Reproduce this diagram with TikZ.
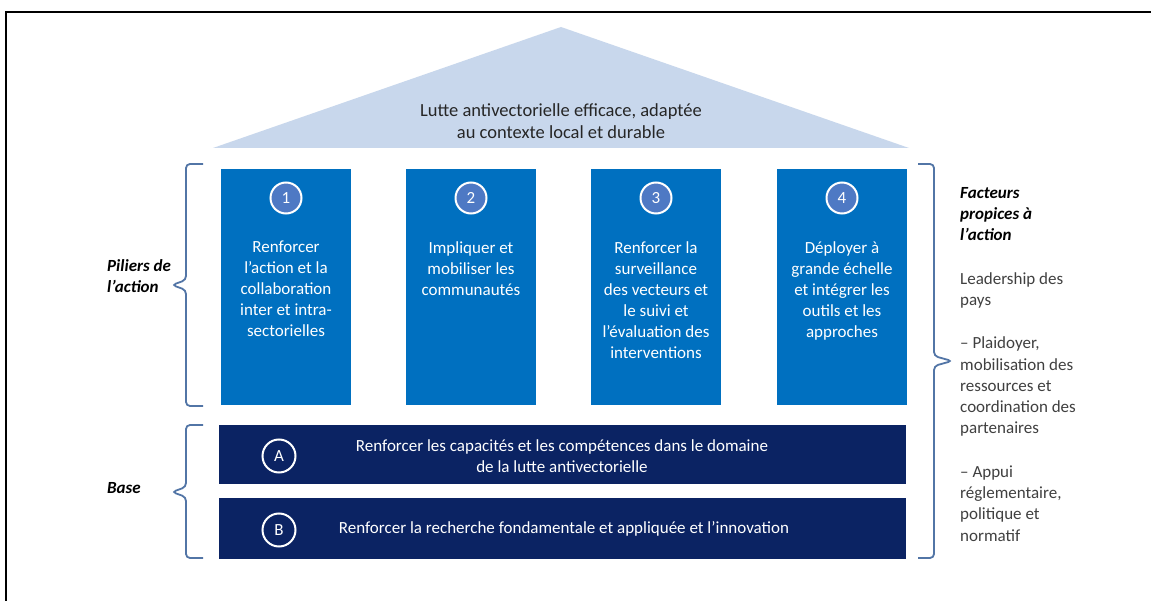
\documentclass[tikz,border=0pt]{standalone}
\usepackage{fontspec}
\setmainfont{Carlito}
\definecolor{roofc}{HTML}{C8D7EC}
\definecolor{pillarc}{HTML}{0070C0}
\definecolor{basec}{HTML}{0B2363}
\definecolor{numc}{HTML}{4E79C4}
\definecolor{bracec}{HTML}{5275A6}
\definecolor{greytxt}{HTML}{404040}
\begin{document}
\begin{tikzpicture}[x=1pt,y=-1pt,
  pillar/.style={fill=pillarc, draw=none},
  basebar/.style={fill=basec, draw=none},
  numcirc/.style={circle, draw=white, line width=2pt, fill=numc, minimum size=31pt, inner sep=0pt, text=white, font=\fontsize{17}{20}\selectfont},
  lettercirc/.style={circle, draw=white, line width=2pt, fill=basec, minimum size=33pt, inner sep=0pt, text=white, font=\fontsize{17}{20}\selectfont},
  pillartext/.style={anchor=north, align=center, text=white, inner sep=0pt, font=\fontsize{17}{21}\selectfont},
  basetext/.style={align=center, text=white, inner sep=0pt, font=\fontsize{17}{21}\selectfont},
  brace/.style={draw=bracec, line width=1.8pt, rounded corners=4pt},
  sidelabel/.style={anchor=north west, align=left, inner sep=0pt, font=\fontsize{17}{21}\selectfont\bfseries\itshape}
]
\useasboundingbox (0,0) rectangle (1151,601);
\fill[white] (0,0) rectangle (1151,601);
% frame
\draw[line width=2.5pt, line cap=rect] (6,601) -- (6,12) -- (1151,12);
% roof
\fill[roofc] (213,148) -- (561,27) -- (909,148) -- cycle;
\node[align=center, inner sep=0pt, text=black!85, font=\fontsize{18.5}{22}\selectfont] (roof) at (561,121) {Lutte antivectorielle efficace, adaptée\\au contexte local et durable};
% pillars
\foreach \i/\x in {1/221,2/406,3/591,4/777}{
  \fill[pillar] (\x,169) rectangle ++(130,236);
  \node[numcirc] (n\i) at ({\x+65},198) {\i};
}
\node[pillartext] (p1) at (286,241) {Renforcer\\l’action et la\\collaboration\\inter et intra-\\sectorielles};
\node[pillartext] (p2) at (471,241) {Impliquer et\\mobiliser les\\communautés};
\node[pillartext] (p3) at (656,241) {Renforcer la\\surveillance\\des vecteurs et\\le suivi et\\l’évaluation des\\interventions};
\node[pillartext] (p4) at (842,241) {Déployer à\\grande échelle\\et intégrer les\\outils et les\\approches};
% base bars
\fill[basebar] (219,425) rectangle (906,484);
\fill[basebar] (219,498) rectangle (906,559);
\node[lettercirc] (ca) at (279,456) {A};
\node[lettercirc] (cb) at (279,530) {B};
\node[basetext] (ta) at (562,456) {Renforcer les capacités et les compétences dans le domaine\\de la lutte antivectorielle};
\node[basetext] (tb) at (564,529) {Renforcer la recherche fondamentale et appliquée et l’innovation};
% left braces
\coordinate (lb1t) at (203,164);
\coordinate (lb1b) at (203,406);
\draw[brace] (lb1t) -- (186,164) -- (186,280) -- (172,285) -- (186,290) -- (186,406) -- (lb1b);
\coordinate (lb2t) at (203,425);
\coordinate (lb2b) at (203,558);
\draw[brace] (lb2t) -- (186,425) -- (186,487) -- (172,492) -- (186,497) -- (186,558) -- (lb2b);
% right brace
\coordinate (rbt) at (918,164);
\coordinate (rbb) at (918,558);
\draw[brace] (rbt) -- (934,164) -- (934,356) -- (952,361) -- (934,366) -- (934,558) -- (rbb);
% labels
\node[sidelabel] (lp) at (107,259) {Piliers de\\l’action};
\node[sidelabel] (lbase) at (107,482) {Base};
\node[anchor=north west, align=left, inner sep=0pt, font=\fontsize{17}{21.3}\selectfont] (rt) at (960,187)
  {\textbf{\textit{Facteurs}}\\\textbf{\textit{propices à}}\\\textbf{\textit{l’action}}\\[22pt]
   \textcolor{greytxt}{Leadership des}\\\textcolor{greytxt}{pays}\\[22pt]
   \textcolor{greytxt}{– Plaidoyer,}\\\textcolor{greytxt}{mobilisation des}\\\textcolor{greytxt}{ressources et}\\\textcolor{greytxt}{coordination des}\\\textcolor{greytxt}{partenaires}\\[22pt]
   \textcolor{greytxt}{– Appui}\\\textcolor{greytxt}{réglementaire,}\\\textcolor{greytxt}{politique et}\\\textcolor{greytxt}{normatif}};
\end{tikzpicture}
\end{document}
